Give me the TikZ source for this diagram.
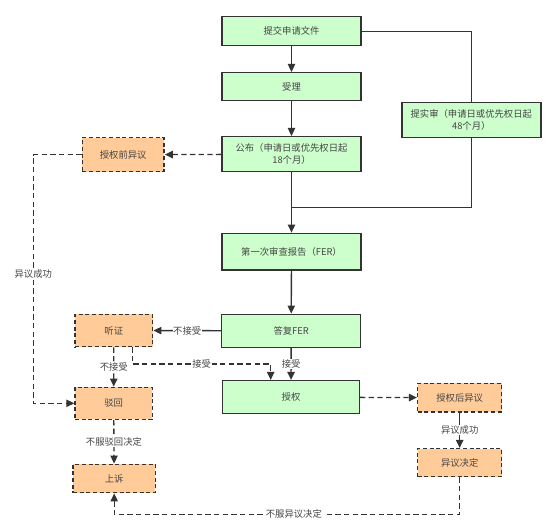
\documentclass[tikz,border=0pt]{standalone}
\usepackage{fontspec}
\setmainfont{Noto Sans CJK SC}
\usetikzlibrary{arrows.meta}
\definecolor{gfill}{HTML}{CCFFCC}
\definecolor{ofill}{HTML}{FFCC99}
\definecolor{edge}{HTML}{333333}
\definecolor{txt}{HTML}{444444}
\tikzset{
  gbox/.style 2 args={draw=edge, fill=gfill, line width=1.1pt, inner sep=1pt,
    minimum width=#1*0.75pt, minimum height=#2*0.75pt, align=center,
    font=\fontsize{7pt}{9pt}\selectfont, text=txt},
  obox/.style 2 args={gbox={#1}{#2}, fill=ofill, dash pattern=on 3pt off 2pt},
  conn/.style={draw=edge, line width=1pt},
  arr/.style={conn, -{Triangle[length=6pt,width=5.5pt]}},
  dsh/.style={dash pattern=on 4pt off 2.5pt},
  lbl/.style={fill=white, inner sep=0.5pt, font=\fontsize{7pt}{9pt}\selectfont, text=txt}
}
\begin{document}
\begin{tikzpicture}[x=0.75pt,y=-0.75pt]
\useasboundingbox (0,0) rectangle (558,532);
% green nodes
\node[gbox={139}{29}] (submit) at (291.5,31.2) {提交申请文件};
\node[gbox={139}{28}] (accept) at (291.5,86.7) {受理};
\node[gbox={139}{35}] (publish) at (291.5,154.2) {公布（申请日或优先权日起\\18个月）};
\node[gbox={139}{34.6}] (exam) at (471.3,120) {提实审（申请日或优先权日起\\48个月）};
\node[gbox={139}{36.7}] (fer) at (291.5,251.7) {第一次审查报告（FER）};
\node[gbox={139}{33}] (reply) at (291.2,330.8) {答复FER};
\node[gbox={136.6}{33}] (grant) at (291,397.2) {授权};
% orange nodes
\node[obox={81.7}{34}] (pre) at (123.2,154.7) {授权前异议};
\node[obox={77.7}{32.4}] (hearing) at (113.8,330.5) {听证};
\node[obox={77.3}{32}] (reject) at (113.7,403.3) {驳回};
\node[obox={82.3}{28.4}] (appeal) at (114.2,478.5) {上诉};
\node[obox={84}{28.7}] (post) at (459.7,397.7) {授权后异议};
\node[obox={84}{28}] (decision) at (459.7,462.7) {异议决定};
% helper coordinates
\coordinate (merge) at (291.5,207.7);
\coordinate (lcol) at (33.3,154.7);
\coordinate (h1) at (132.7,364);
\coordinate (h2) at (270.7,364);
\coordinate (bot) at (459.7,514.3);
% solid connectors
\draw[arr] (submit) -- (accept);
\draw[arr] (accept) -- (publish);
\draw[conn] (submit.east) -| (exam.north);
\draw[conn] (exam.south) |- (merge);
\draw[arr] (publish) -- (fer);
\draw[arr] (fer) -- (reply);
\draw[arr] (reply) -- node[lbl] {不接受} (hearing);
\draw[arr] (reply) -- node[lbl] {接受} (grant);
\draw[arr] (post) -- node[lbl] {异议成功} (decision);
% dashed connectors
\draw[arr,dsh] (publish) -- (pre);
\draw[arr,dsh] (pre.west) -- (lcol) -- node[lbl,pos=0.48] {异议成功} (lcol |- reject.west) -- (reject.west);
\draw[arr,dsh] (hearing) -- node[lbl] {不接受} (reject);
\draw[arr,dsh] (hearing.south -| h1) -- (h1) -- node[lbl,pos=0.5] {接受} (h2) -- (h2 |- grant.north);
\draw[arr,dsh] (reject) -- node[lbl] {不服驳回决定} (appeal);
\draw[arr,dsh] (grant) -- (post);
\draw[arr,dsh] (decision.south) -- (bot) -- node[lbl,pos=0.48] {不服异议决定} (bot -| appeal.south) -- (appeal.south);
\end{tikzpicture}
\end{document}
